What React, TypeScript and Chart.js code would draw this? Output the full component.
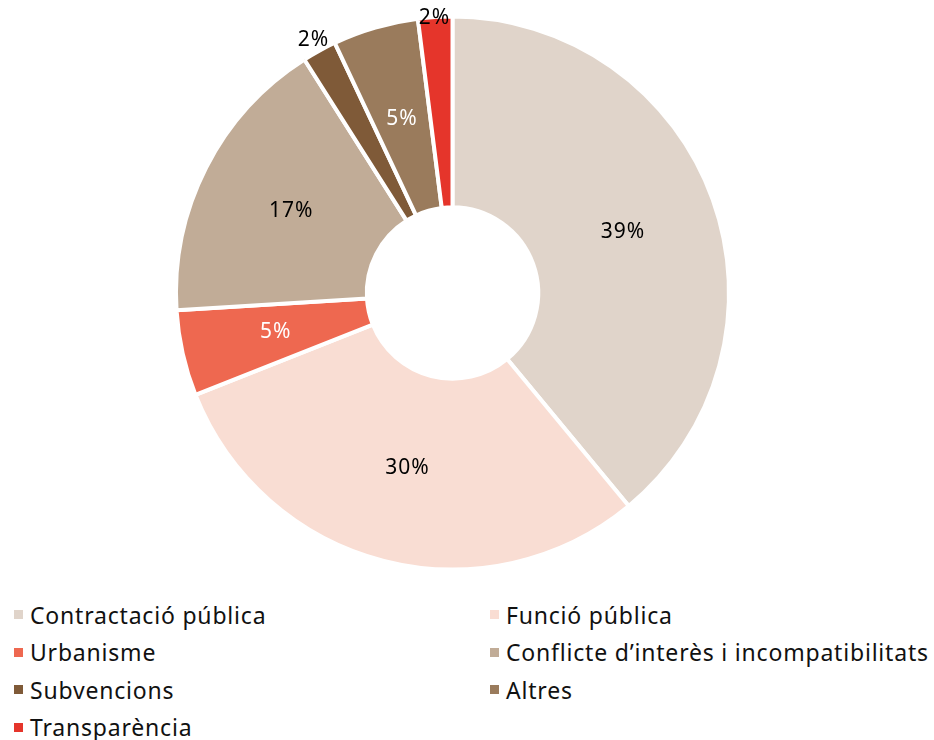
import React, { useEffect, useRef } from "react";
import { Chart, registerables } from "chart.js";

Chart.register(...registerables);

const categories = [
  "Contractació pública",
  "Funció pública",
  "Urbanisme",
  "Conflicte d’interès i incompatibilitats",
  "Subvencions",
  "Altres",
  "Transparència",
];
const values = [39, 30, 5, 17, 2, 5, 2];
const colors = ["#E0D4CA", "#F9DDD3", "#EE6850", "#C1AC97", "#7F5A38", "#9A7B5C", "#E5352B"];
const labelColors = ["#000000", "#000000", "#FFFFFF", "#000000", "#000000", "#FFFFFF", "#000000"];

const FONT = "'Noto Sans', sans-serif";

const labelPlugin = {
  id: "sliceLabels",
  afterDatasetsDraw(chart: any) {
    const ctx = chart.ctx;
    const meta = chart.getDatasetMeta(0);
    const total = values.reduce((a, b) => a + b, 0);
    ctx.save();
    ctx.font = `21px ${FONT}`;
    (ctx as any).letterSpacing = "1px";
    ctx.textAlign = "center";
    ctx.textBaseline = "middle";
    meta.data.forEach((arc: any, i: number) => {
      const p = arc.getProps(["x", "y", "startAngle", "endAngle", "innerRadius", "outerRadius"], true);
      const mid = (p.startAngle + p.endAngle) / 2;
      const pct = Math.round((values[i] / total) * 100);
      const r = pct < 3 ? p.outerRadius + 12 : (p.innerRadius + p.outerRadius) / 2;
      const x = p.x + Math.cos(mid) * r;
      const y = Math.max(10, p.y + Math.sin(mid) * r);
      ctx.fillStyle = labelColors[i];
      ctx.fillText(`${pct}%`, x, y);
    });
    ctx.restore();
  },
};

export default function App() {
  const ref = useRef<HTMLCanvasElement>(null);
  useEffect(() => {
    document.documentElement.style.overflow = "hidden";
    document.body.style.overflow = "hidden";
    document.body.style.margin = "0";
    if (!ref.current) return;
    const chart = new Chart(ref.current, {
      type: "doughnut",
      data: {
        labels: categories,
        datasets: [
          {
            data: values,
            backgroundColor: colors,
            borderColor: "#FFFFFF",
            borderWidth: 4,
          },
        ],
      },
      options: {
        animation: false,
        responsive: false,
        maintainAspectRatio: false,
        cutout: "31%",
        layout: { padding: { left: 0, right: 29, top: 6.5, bottom: 6.5 } },
        plugins: {
          legend: { display: false },
          tooltip: { enabled: false },
        },
      },
      plugins: [labelPlugin],
    });
    return () => chart.destroy();
  }, []);

  return (
    <div style={{ width: 926, paddingTop: 8, paddingLeft: 8, fontFamily: FONT }}>
      <canvas ref={ref} width={918} height={570} style={{ display: "block", width: 918, height: 570 }} />
      <div
        style={{
          marginTop: 18,
          display: "grid",
          gridTemplateColumns: "476px 450px",
          gridAutoRows: "37.5px",
        }}
      >
        {categories.map((c, i) => (
          <div key={c} style={{ display: "flex", alignItems: "center", fontSize: 23, color: "#111" }}>
            <span
              style={{
                display: "inline-block",
                width: 9,
                height: 9,
                background: colors[i],
                marginLeft: 6,
                marginRight: 7,
                flexShrink: 0,
              }}
            />
            <span style={{ whiteSpace: "nowrap", letterSpacing: "0.8px" }}>{c}</span>
          </div>
        ))}
      </div>
    </div>
  );
}
